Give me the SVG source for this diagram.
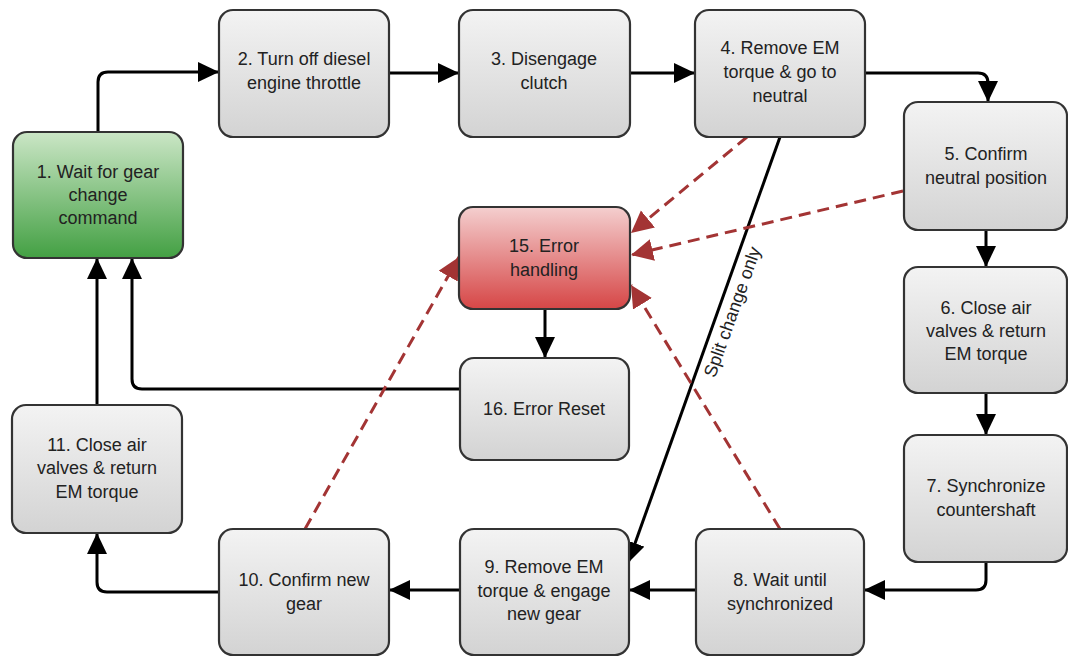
<svg xmlns="http://www.w3.org/2000/svg" width="1068" height="658" viewBox="0 0 1068 658">
  <defs>
    <linearGradient id="gGray" x1="0" y1="0" x2="0" y2="1">
      <stop offset="0" stop-color="#f3f3f3"/>
      <stop offset="1" stop-color="#d3d3d3"/>
    </linearGradient>
    <linearGradient id="gGreen" x1="0" y1="0" x2="0" y2="1">
      <stop offset="0" stop-color="#cbe6c6"/>
      <stop offset="1" stop-color="#43a043"/>
    </linearGradient>
    <linearGradient id="gRed" x1="0" y1="0" x2="0" y2="1">
      <stop offset="0" stop-color="#f4cfcf"/>
      <stop offset="1" stop-color="#d64646"/>
    </linearGradient>
    <marker id="arrow" markerUnits="userSpaceOnUse" markerWidth="22" markerHeight="22" refX="21" refY="10" orient="auto">
      <path d="M0,0 L21,10 L0,20 z" fill="#000"/>
    </marker>
    <marker id="arrowRed" markerUnits="userSpaceOnUse" markerWidth="24" markerHeight="24" refX="22" refY="11" orient="auto">
      <path d="M0,0 L22,11 L0,22 z" fill="#a33434"/>
    </marker>
  </defs>
  <style>
    .box { stroke: #333; stroke-width: 2.2; }
    .gray { fill: url(#gGray); }
    .green { fill: url(#gGreen); }
    .red { fill: url(#gRed); }
    text { font-family: "Liberation Sans", Arial, sans-serif; font-size: 18px; fill: #222; text-anchor: middle; }
    .flow { fill: none; stroke: #000; stroke-width: 3; marker-end: url(#arrow); }
    .err { fill: none; stroke: #a33434; stroke-width: 3; stroke-dasharray: 12 7; marker-end: url(#arrowRed); }
    .label { font-size: 18px; }
  </style>

  <g id="connectors">
    <path class="flow" d="M98 132 V82 Q98 72 108 72 H219"/>
    <path class="flow" d="M389 73 H459"/>
    <path class="flow" d="M630 73 H695"/>
    <path class="flow" d="M865 73 H978 Q988 73 988 83 V102"/>
    <path class="flow" d="M986 230 V267"/>
    <path class="flow" d="M986 393 V435"/>
    <path class="flow" d="M986 562 V580 Q986 590 976 590 H864"/>
    <path class="flow" d="M696 590 H629"/>
    <path class="flow" d="M460 590 H389"/>
    <path class="flow" d="M219 592 H107 Q97 592 97 582 V533"/>
    <path class="flow" d="M97 405 V258"/>
    <path class="flow" d="M460 389 H142 Q132 389 132 379 V258"/>
    <path class="flow" d="M545 309 V358"/>
    <path class="flow" d="M780 137 L628 563"/>
    <text class="label" transform="translate(738 314) rotate(-70.4)">Split change only</text>
    <path class="err" d="M747 137 L631 233"/>
    <path class="err" d="M903 191 L631 255"/>
    <path class="err" d="M780 529 L631 285"/>
    <path class="err" d="M305 529 L459 257"/>
  </g>

  <g id="n1">
    <rect class="box green" x="13" y="132" width="170" height="126" rx="14"/>
    <text x="98" y="178">1. Wait for gear</text>
    <text x="98" y="201">change</text>
    <text x="98" y="224">command</text>
  </g>
  <g id="n2">
    <rect class="box gray" x="219" y="10" width="170" height="127" rx="14"/>
    <text x="304" y="65">2. Turn off diesel</text>
    <text x="304" y="89">engine throttle</text>
  </g>
  <g id="n3">
    <rect class="box gray" x="459" y="10" width="171" height="127" rx="14"/>
    <text x="544" y="65">3. Disengage</text>
    <text x="544" y="89">clutch</text>
  </g>
  <g id="n4">
    <rect class="box gray" x="695" y="10" width="170" height="127" rx="14"/>
    <text x="780" y="54">4. Remove EM</text>
    <text x="780" y="78">torque &amp; go to</text>
    <text x="780" y="102">neutral</text>
  </g>
  <g id="n5">
    <rect class="box gray" x="904" y="102" width="163" height="128" rx="14"/>
    <text x="986" y="160">5. Confirm</text>
    <text x="986" y="184">neutral position</text>
  </g>
  <g id="n6">
    <rect class="box gray" x="904" y="267" width="163" height="126" rx="14"/>
    <text x="986" y="314">6. Close air</text>
    <text x="986" y="337">valves &amp; return</text>
    <text x="986" y="360">EM torque</text>
  </g>
  <g id="n7">
    <rect class="box gray" x="904" y="435" width="163" height="127" rx="14"/>
    <text x="986" y="492">7. Synchronize</text>
    <text x="986" y="516">countershaft</text>
  </g>
  <g id="n8">
    <rect class="box gray" x="696" y="529" width="168" height="126" rx="14"/>
    <text x="780" y="586">8. Wait until</text>
    <text x="780" y="610">synchronized</text>
  </g>
  <g id="n9">
    <rect class="box gray" x="460" y="529" width="169" height="126" rx="14"/>
    <text x="544" y="573">9. Remove EM</text>
    <text x="544" y="597">torque &amp; engage</text>
    <text x="544" y="620">new gear</text>
  </g>
  <g id="n10">
    <rect class="box gray" x="219" y="529" width="170" height="126" rx="14"/>
    <text x="304" y="586">10. Confirm new</text>
    <text x="304" y="610">gear</text>
  </g>
  <g id="n11">
    <rect class="box gray" x="12" y="405" width="170" height="128" rx="14"/>
    <text x="97" y="451">11. Close air</text>
    <text x="97" y="474">valves &amp; return</text>
    <text x="97" y="498">EM torque</text>
  </g>
  <g id="n15">
    <rect class="box red" x="459" y="207" width="171" height="102" rx="14"/>
    <text x="544" y="252">15. Error</text>
    <text x="544" y="276">handling</text>
  </g>
  <g id="n16">
    <rect class="box gray" x="460" y="358" width="169" height="102" rx="14"/>
    <text x="544" y="415">16. Error Reset</text>
  </g>
</svg>
